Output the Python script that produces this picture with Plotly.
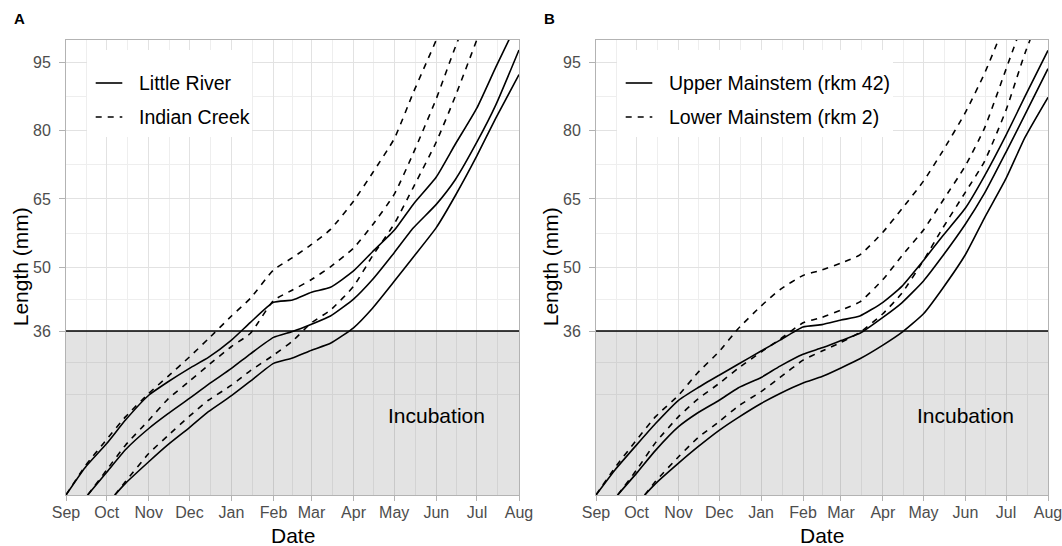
import pandas as pd
import plotly.graph_objects as go

# ---------------------------------------------------------------------------
# Data: modelled fish length (mm) through the season for three spawning groups
# (early / mid / late emergence start), sampled on the 1st and 15th of each month.
# ---------------------------------------------------------------------------
dates_early = ["2018-09-01", "2018-09-15", "2018-10-01", "2018-10-15", "2018-11-01",
               "2018-11-15", "2018-12-01", "2018-12-15", "2019-01-01", "2019-01-15",
               "2019-02-01", "2019-02-15", "2019-03-01", "2019-03-15", "2019-04-01",
               "2019-04-15", "2019-05-01", "2019-05-15", "2019-06-01", "2019-06-15",
               "2019-07-01", "2019-07-15", "2019-08-01"]
dates_mid = ["2018-09-17", "2018-10-01", "2018-10-15", "2018-11-01", "2018-11-15",
             "2018-12-01", "2018-12-15", "2019-01-01", "2019-01-15", "2019-02-01",
             "2019-02-15", "2019-03-01", "2019-03-15", "2019-04-01", "2019-04-15",
             "2019-05-01", "2019-05-15", "2019-06-01", "2019-06-15", "2019-07-01",
             "2019-07-15", "2019-08-01"]
dates_late = ["2018-10-07", "2018-10-15", "2018-11-01", "2018-11-15", "2018-12-01",
              "2018-12-15", "2019-01-01", "2019-01-15", "2019-02-01", "2019-02-15",
              "2019-03-01", "2019-03-15", "2019-04-01", "2019-04-15", "2019-05-01",
              "2019-05-15", "2019-06-01", "2019-06-15", "2019-07-01", "2019-07-15",
              "2019-08-01"]

# Panel A: Little River (solid) vs Indian Creek (dashed)
little_river_early = [0, 6.0, 11.3, 16.5, 21.9, 24.8, 27.8, 30.2, 34.0, 37.9, 42.3, 42.8,
                      44.5, 45.6, 49.2, 53.4, 58.1, 63.8, 69.8, 77.0, 85.0, 94.0, 104.5]
little_river_mid = [0, 5.0, 10.0, 14.6, 17.8, 21.2, 24.3, 27.8, 31.0, 34.6, 35.9, 37.5,
                    39.3, 43.0, 47.3, 53.2, 58.6, 63.8, 69.2, 77.5, 85.7, 97.7]
little_river_late = [0, 2.6, 7.3, 11.0, 14.8, 18.3, 21.8, 25.0, 28.9, 30.1, 31.8, 33.3,
                     36.7, 41.0, 46.9, 52.2, 58.7, 65.7, 74.5, 82.8, 92.3]
indian_creek_early = [0, 6.3, 12.2, 17.2, 22.3, 26.0, 30.3, 34.3, 39.3, 43.2, 49.4, 52.1,
                      55.0, 58.3, 64.5, 70.7, 78.2, 88.3, 99.9, 110.0]
indian_creek_mid = [0, 5.5, 11.0, 16.4, 21.0, 25.0, 28.5, 32.6, 35.5, 42.7, 45.0, 47.3,
                    50.1, 54.2, 59.3, 66.0, 75.0, 87.0, 98.3, 110.0]
indian_creek_late = [0, 3.0, 9.1, 13.0, 17.3, 20.8, 24.1, 27.3, 30.7, 33.8, 37.8, 40.6,
                     45.8, 52.5, 59.5, 67.5, 77.5, 87.5, 100.0, 111.0]

# Panel B: Upper Mainstem (solid) vs Lower Mainstem (dashed)
upper_main_early = [0, 5.5, 11.0, 15.7, 20.8, 23.5, 26.3, 28.7, 31.6, 34.0, 36.9, 37.4,
                    38.4, 39.3, 42.3, 45.8, 51.5, 56.8, 63.0, 70.0, 79.0, 87.5, 97.6]
upper_main_mid = [0, 4.8, 9.8, 15.0, 18.0, 20.8, 23.5, 25.8, 28.3, 30.9, 32.3, 33.9,
                  35.5, 39.0, 42.2, 47.0, 52.4, 59.5, 66.2, 75.3, 83.5, 93.6]
upper_main_late = [0, 2.5, 7.0, 10.5, 14.2, 17.0, 20.1, 22.3, 24.6, 26.0, 27.9, 29.9,
                   32.9, 35.7, 39.8, 45.3, 52.8, 60.8, 69.5, 78.5, 87.3]
lower_main_early = [0, 6.0, 12.1, 17.2, 21.9, 26.8, 31.5, 36.5, 41.5, 45.1, 48.2, 49.4,
                    50.9, 52.7, 57.7, 62.8, 68.9, 75.4, 84.0, 92.5, 104.0]
lower_main_mid = [0, 5.5, 11.5, 17.2, 21.0, 24.5, 27.8, 31.4, 34.2, 37.8, 39.0, 40.6,
                  42.4, 47.3, 52.5, 58.2, 64.5, 72.3, 80.5, 93.5, 105.0]
lower_main_late = [0, 3.0, 8.4, 12.5, 16.1, 19.5, 22.7, 25.8, 29.6, 31.6, 33.5, 35.7,
                   39.8, 44.3, 51.5, 58.5, 66.5, 73.2, 84.5, 97.0, 110.0]

# Axis labelling
month_ticks = ["2018-09-01", "2018-10-01", "2018-11-01", "2018-12-01", "2019-01-01",
               "2019-02-01", "2019-03-01", "2019-04-01", "2019-05-01", "2019-06-01",
               "2019-07-01", "2019-08-01"]
month_labels = ["Sep", "Oct", "Nov", "Dec", "Jan", "Feb", "Mar", "Apr", "May", "Jun",
                "Jul", "Aug"]
length_ticks = [36, 50, 65, 80, 95]
length_minor = [22, 29, 43, 57.5, 72.5, 87.5]
incubation_threshold = 36

legend_a = ["Little River", "Indian Creek"]
legend_b = ["Upper Mainstem (rkm 42)", "Lower Mainstem (rkm 2)"]

# ---------------------------------------------------------------------------
W, H = 1062, 546
FONT = "Liberation Sans, Arial, Helvetica, sans-serif"
TICK_GREY = "#4d4d4d"
BORDER = "#b3b3b3"
DASH = "6px,6px"

# plot-area pixel boxes
panel_a = dict(x0=66, x1=519)
panel_b = dict(x0=596, x1=1048)
plot_top, plot_bottom = 39.5, 495


def px_x(px):
    return px / W


def px_y(py):
    return 1 - py / H


ticks_ts = pd.to_datetime(month_ticks)
minor_dates = [(a + (b - a) / 2).strftime("%Y-%m-%d %H:%M") for a, b in zip(ticks_ts[:-1], ticks_ts[1:])]

fig = go.Figure()


def add_curve(dates, vals, xa, ya, dash, name):
    fig.add_trace(go.Scatter(
        x=dates[:len(vals)], y=vals, mode="lines", name=name,
        line=dict(color="black", width=1.6, dash=dash, shape="spline", smoothing=0.5),
        xaxis=xa, yaxis=ya, showlegend=False, hoverinfo="skip"))


panels = [
    ("x", "y", [little_river_early, little_river_mid, little_river_late],
     [indian_creek_early, indian_creek_mid, indian_creek_late], legend_a),
    ("x2", "y2", [upper_main_early, upper_main_mid, upper_main_late],
     [lower_main_early, lower_main_mid, lower_main_late], legend_b),
]
group_dates = [dates_early, dates_mid, dates_late]

for xa, ya, solids, dashes, names in panels:
    for d, v in zip(group_dates, solids):
        add_curve(d, v, xa, ya, "solid", names[0])
    for d, v in zip(group_dates, dashes):
        add_curve(d, v, xa, ya, DASH, names[1])

common_x = dict(
    type="date", range=[month_ticks[0], month_ticks[-1]],
    tickmode="array", tickvals=month_ticks, ticktext=month_labels,
    ticks="outside", ticklen=5, tickwidth=1, tickcolor=BORDER,
    ticklabelstandoff=-2, ticklabeloverflow="allow",
    tickfont=dict(family=FONT, size=16, color=TICK_GREY),
    showline=True, mirror=True, linecolor=BORDER, linewidth=1,
    showgrid=True, gridcolor="#e2e2e2", gridwidth=1, zeroline=False,
    minor=dict(tickmode="array", tickvals=minor_dates, showgrid=True,
               gridcolor="#eeeeee", gridwidth=1, ticks=""),
    automargin=False, fixedrange=True,
)
common_y = dict(
    range=[0, 100], tickmode="array", tickvals=length_ticks,
    ticks="outside", ticklen=6, tickwidth=1, tickcolor=BORDER,
    ticklabelstandoff=5,
    tickfont=dict(family=FONT, size=16, color=TICK_GREY),
    showline=True, mirror=True, linecolor=BORDER, linewidth=1,
    showgrid=True, gridcolor="#e2e2e2", gridwidth=1, zeroline=False,
    minor=dict(tickmode="array", tickvals=length_minor, showgrid=True,
               gridcolor="#eeeeee", gridwidth=1, ticks=""),
    automargin=False, fixedrange=True,
)

ydom = [px_y(plot_bottom), px_y(plot_top)]
fig.update_layout(
    width=W, height=H, margin=dict(l=0, r=0, t=0, b=0, autoexpand=False),
    paper_bgcolor="white", plot_bgcolor="white", showlegend=False,
    font=dict(family=FONT, color="black"),
    xaxis=dict(common_x, domain=[px_x(panel_a["x0"]), px_x(panel_a["x1"])], anchor="y"),
    yaxis=dict(common_y, domain=ydom, anchor="x"),
    xaxis2=dict(common_x, domain=[px_x(panel_b["x0"]), px_x(panel_b["x1"])], anchor="y2"),
    yaxis2=dict(common_y, domain=ydom, anchor="x2"),
)

shapes = []
annotations = []
for (xa, ya, _, _, names), panel, letter in zip(panels, [panel_a, panel_b], ["A", "B"]):
    pw = panel["x1"] - panel["x0"]
    ph = plot_bottom - plot_top
    xr, yr = xa, ya
    xd, yd = f"{xa} domain", f"{ya} domain"

    def dx(px):
        return (px - panel["x0"]) / pw

    def dy(py):
        return (plot_bottom - py) / ph

    # incubation zone and threshold
    shapes.append(dict(type="rect", xref=xr, yref=yr, x0=month_ticks[0], x1=month_ticks[-1],
                       y0=0, y1=incubation_threshold, fillcolor="rgba(0,0,0,0.11)",
                       line=dict(width=0), layer="between"))
    shapes.append(dict(type="line", xref=xr, yref=yr, x0=month_ticks[0], x1=month_ticks[-1],
                       y0=incubation_threshold, y1=incubation_threshold,
                       line=dict(color="black", width=1.6), layer="between"))
    annotations.append(dict(xref=xr, yref=yr, x="2019-06-01", y=17.5, text="Incubation",
                            showarrow=False, font=dict(size=21, color="black"),
                            xanchor="center", yanchor="middle"))

    # legend box
    box_right = 252 if letter == "A" else 893
    shapes.append(dict(type="rect", xref=xd, yref=yd,
                       x0=dx(panel["x0"] + 21), x1=dx(box_right), y0=dy(137), y1=dy(50),
                       fillcolor="white", line=dict(width=0), layer="above"))
    for row_y, name, dash in zip([83, 117], names, ["solid", DASH]):
        shapes.append(dict(type="line", xref=xd, yref=yd,
                           x0=dx(panel["x0"] + 29.7), x1=dx(panel["x0"] + 56.3),
                           y0=dy(row_y), y1=dy(row_y),
                           line=dict(color="black", width=1.6, dash=dash), layer="above"))
        annotations.append(dict(xref=xd, yref=yd, x=dx(panel["x0"] + 70.5), y=dy(row_y),
                                text=name, showarrow=False, xanchor="left", yanchor="middle",
                                font=dict(size=19.5, color="black")))

    # axis titles and panel letter
    left = panel["x0"] - 66
    annotations.append(dict(xref="paper", yref="paper", x=px_x(left + 20),
                            y=px_y((plot_top + plot_bottom) / 2), text="Length (mm)",
                            textangle=-90, showarrow=False, xanchor="center",
                            yanchor="middle", font=dict(size=21, color="black")))
    annotations.append(dict(xref="paper", yref="paper", x=px_x((panel["x0"] + panel["x1"]) / 2),
                            y=px_y(535.7), text="Date", showarrow=False,
                            xanchor="center", yanchor="middle",
                            font=dict(size=21, color="black")))
    annotations.append(dict(xref="paper", yref="paper", x=px_x(left + 19.5), y=px_y(18.7),
                            text=f"<b>{letter}</b>", showarrow=False, xanchor="center",
                            yanchor="middle", font=dict(size=15, color="black")))

fig.update_layout(shapes=shapes, annotations=annotations)
fig.write_html("out.html")
